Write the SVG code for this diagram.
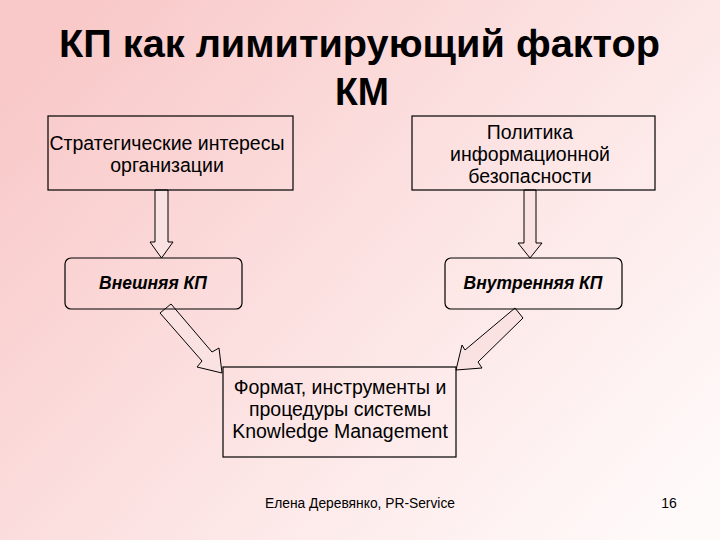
<svg xmlns="http://www.w3.org/2000/svg" width="720" height="540" viewBox="0 0 720 540">
<defs>
<linearGradient id="bg" x1="0" y1="0.2" x2="1" y2="0.9">
<stop offset="0" stop-color="#f9c9c9"/>
<stop offset="0.6" stop-color="#fde8e8"/>
<stop offset="1" stop-color="#fffafa"/>
</linearGradient>
<style>
.box{fill:none;stroke:#000;stroke-width:1.2}
.arr{fill:#fbe2e2;stroke:#000;stroke-width:1}
.t{font-family:"Liberation Sans",Arial,sans-serif;font-size:19.5px;fill:#000;text-anchor:middle}
.ti{font-family:"Liberation Sans",Arial,sans-serif;font-size:17.5px;font-weight:bold;font-style:italic;fill:#000;text-anchor:middle}
.title{font-family:"Liberation Sans",Arial,sans-serif;font-size:39px;font-weight:bold;fill:#000}
.foot{font-family:"Liberation Sans",Arial,sans-serif;font-size:14px;fill:#000}
</style>
</defs>
<rect x="0" y="0" width="720" height="540" fill="url(#bg)"/>
<g id="title">
<text class="title" x="59" y="57" textLength="601" lengthAdjust="spacingAndGlyphs">КП как лимитирующий фактор</text>
<text class="title" x="335" y="105" textLength="54" lengthAdjust="spacingAndGlyphs">КМ</text>
</g>
<g id="connectors">
<polygon class="arr" points="155,190 168,190 168,242 173,242 161.5,258 150,242 155,242"/>
<polygon class="arr" points="524,190 536,190 536,243 542,243 530,258 518,243 524,243"/>
<polygon class="arr" points="171,304 212,352 219,348 222,373 197,367 202,361 160,313"/>
<polygon class="arr" points="515,308 465,350 462,345 456,370 482,368 478,362 523,318"/>
</g>
<g id="n1">
<rect class="box" x="48" y="116" width="245" height="74"/>
<text class="t" x="167" y="150">Стратегические интересы</text>
<text class="t" x="167" y="172">организации</text>
</g>
<g id="n2">
<rect class="box" x="412" y="116" width="243" height="74"/>
<text class="t" x="530" y="139">Политика</text>
<text class="t" x="530" y="161">информационной</text>
<text class="t" x="530" y="183">безопасности</text>
</g>
<g id="n3">
<rect class="box" x="65" y="258" width="177" height="51" rx="6"/>
<text class="ti" x="153" y="289">Внешняя КП</text>
</g>
<g id="n4">
<rect class="box" x="445" y="258" width="177" height="51" rx="6"/>
<text class="ti" x="533" y="289">Внутренняя КП</text>
</g>
<g id="n5">
<rect class="box" x="223" y="367" width="233" height="90"/>
<text class="t" x="340" y="394">Формат, инструменты и</text>
<text class="t" x="340" y="416">процедуры системы</text>
<text class="t" x="340" y="438">Knowledge Management</text>
</g>
<g id="footer">
<text class="foot" x="360" y="508" text-anchor="middle" textLength="190" lengthAdjust="spacingAndGlyphs">Елена Деревянко, PR-Service</text>
<text class="foot" x="669" y="508" text-anchor="middle">16</text>
</g>
</svg>
